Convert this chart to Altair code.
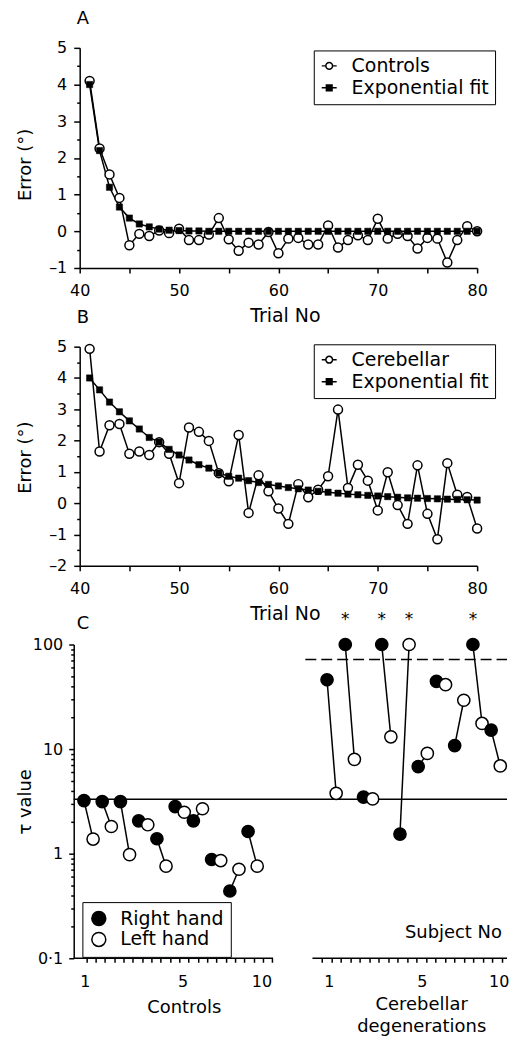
import altair as alt
import pandas as pd

FONT = "DejaVu Sans"

# ---------------- data ----------------
trials = list(range(41, 81))

controls = [4.10, 2.26, 1.55, 0.91, -0.38, -0.07, -0.13, 0.02, -0.05, 0.07,
            -0.24, -0.24, -0.09, 0.36, -0.22, -0.53, -0.31, -0.36, -0.02, -0.60,
            -0.20, -0.18, -0.36, -0.36, 0.16, -0.44, -0.24, -0.11, -0.24, 0.34,
            -0.20, -0.07, -0.13, -0.47, -0.18, -0.20, -0.85, -0.24, 0.14, 0.00]
fit_a = [4.00, 2.20, 1.20, 0.66, 0.36, 0.20, 0.12, 0.06, 0.03, 0.02,
         0.01, 0.01, 0.00, 0.00, 0.00, 0.00, 0.00, 0.00, 0.00, 0.00,
         0.00, 0.00, 0.00, 0.00, 0.00, 0.00, 0.00, 0.00, 0.00, 0.00,
         0.00, 0.00, 0.00, 0.00, 0.00, 0.00, 0.00, 0.00, 0.00, 0.00]

cerebellar = [4.93, 1.65, 2.49, 2.53, 1.58, 1.65, 1.54, 1.95, 1.58, 0.64,
              2.42, 2.28, 1.99, 0.96, 0.70, 2.18, -0.31, 0.89, 0.38, -0.17,
              -0.66, 0.61, 0.19, 0.43, 0.86, 2.99, 0.49, 1.23, 0.72, -0.23,
              0.99, -0.06, -0.66, 1.21, -0.34, -1.15, 1.28, 0.27, 0.20, -0.81]
fit_b = [4.00, 3.62, 3.23, 2.92, 2.63, 2.37, 2.10, 1.95, 1.72, 1.54,
         1.38, 1.23, 1.12, 0.96, 0.86, 0.80, 0.72, 0.66, 0.60, 0.55,
         0.50, 0.46, 0.42, 0.38, 0.35, 0.32, 0.29, 0.27, 0.25, 0.23,
         0.21, 0.19, 0.17, 0.16, 0.15, 0.14, 0.13, 0.12, 0.11, 0.10]

subjects = list(range(1, 11))
ctrl_right = [3.22, 3.15, 3.15, 2.06, 1.39, 2.82, 2.06, 0.88, 0.44, 1.63]
ctrl_left = [1.38, 1.82, 0.98, 1.89, 0.76, 2.49, 2.69, 0.86, 0.71, 0.76]
cer_right = [46.0, 100.0, 3.47, 100.0, 1.54, 6.8, 44.5, 10.8, 100.0, 15.2]
cer_left = [3.78, 7.98, 3.34, 13.1, 100.0, 9.1, 41.3, 29.3, 17.6, 6.9]
significant = [2, 4, 5, 9]
tau_normal_limit = 3.32
tau_upper_limit = 72.0

# axis tick / label tables for panel C (x units = subject positions)
c_label_pos = [1.04, 6.41, 10.73, 14.43, 19.53, 23.74]
c_label_txt = ["1", "5", "10", "1", "5", "10"]
c_ticks = [round(1.13 + 0.51 * k, 3) for k in range(21)] + \
          [round(14.06 + 0.518 * k, 3) for k in range(20)]
c_axis_segments = [(0.437, 11.37), (13.53, 24.2)]
C_DOMAIN = [0.765, 24.2]
HAND_OFFSET = 0.5
CER_SHIFT = 13.33

CIRCLE_PATH = "M-1,0L-0.45,0M0.45,0L1,0M0.45,0A0.45,0.45,0,1,1,-0.45,0A0.45,0.45,0,1,1,0.45,0Z"
SQUARE_PATH = "M-1,0L1,0M-0.38,-0.38L0.38,-0.38L0.38,0.38L-0.38,0.38Z"


def trial_panel(values, fit, label, letter, y_domain, title_y, legend_y):
    df_obs = pd.DataFrame({"trial": trials, "error": values, "series": label})
    df_fit = pd.DataFrame({"trial": trials, "error": fit, "series": "Exponential fit"})
    df_all = pd.concat([df_obs, df_fit], ignore_index=True)
    ymin, ymax = y_domain
    yvals = [ymin + 0.5 * i for i in range(int(round((ymax - ymin) * 2)) + 1)]

    x = alt.X("trial:Q",
              scale=alt.Scale(domain=[40, 80], nice=False, zero=False),
              axis=alt.Axis(values=list(range(40, 81, 5)),
                            labelExpr="datum.value % 10 == 0 ? datum.label : ''",
                            tickSize=5, labelPadding=10, labelFontSize=16,
                            labelOverlap=False, labelFlush=False,
                            title="Trial No", titleFontSize=19, titlePadding=8,
                            titleX=206))
    y = alt.Y("error:Q",
              scale=alt.Scale(domain=[ymin, ymax], nice=False, zero=False),
              axis=alt.Axis(values=yvals,
                            labelExpr="datum.value % 1 != 0 ? '' : (datum.value < 0 ? '\u2013' + (-datum.value) : '' + datum.value)",
                            tickSize={"condition": {"test": "datum.value % 1 == 0", "value": 6}, "value": 3},
                            labelPadding=7, labelFontSize=16, labelOverlap=False,
                            labelFlush=False,
                            title="Error (\u00b0)", titleFontSize=18,
                            titleX=-45, titleY=title_y))

    legend = alt.Legend(title=None, orient="none", legendX=235, legendY=legend_y,
                        strokeColor="black", fillColor="white", padding=6,
                        labelFontSize=19, labelFont=FONT, labelColor="black",
                        symbolSize=225, symbolStrokeWidth=1.5,
                        symbolStrokeColor="black", symbolOpacity=1,
                        labelOffset=13, rowPadding=2, labelLimit=400)
    dom = [label, "Exponential fit"]

    obs_line = alt.Chart(df_obs).mark_line(color="black", strokeWidth=1.5).encode(x=x, y=y)
    fit_line = alt.Chart(df_fit).mark_line(color="black", strokeWidth=1.5).encode(x=x, y=y)
    obs_pts = alt.Chart(df_obs).mark_point(shape="circle", size=81, filled=True, fill="white",
                                           stroke="black", strokeWidth=1.5, opacity=1).encode(x=x, y=y)
    fit_pts = alt.Chart(df_fit).mark_point(shape="square", size=40, filled=True, fill="black",
                                           stroke="black", strokeWidth=0.5, opacity=1).encode(x=x, y=y)
    key = alt.Chart(df_all).mark_point(size=0, filled=True, strokeWidth=1.5, opacity=1).encode(
        x=x, y=y,
        shape=alt.Shape("series:N", scale=alt.Scale(domain=dom, range=[CIRCLE_PATH, SQUARE_PATH]), legend=legend),
        fill=alt.Fill("series:N", scale=alt.Scale(domain=dom, range=["white", "black"]), legend=legend),
        stroke=alt.Stroke("series:N", scale=alt.Scale(domain=dom, range=["black", "black"]), legend=legend),
    )
    return alt.layer(obs_line, fit_line, obs_pts, fit_pts, key).properties(
        width=399, height=221 if ymin == -1 else 220,
        title=alt.TitleParams(letter, anchor="start", frame="group", fontSize=18,
                              fontWeight="normal", offset=12, dx=-3),
    )


panel_a = trial_panel(controls, fit_a, "Controls", "A", (-1, 5), 117, 2.6)
panel_b = trial_panel(cerebellar, fit_b, "Cerebellar", "B", (-2, 5), 111, -2.4)

# ---------------- panel C ----------------
pair_rows, pt_rows = [], []
for grp, right, left, shift in [("Controls", ctrl_right, ctrl_left, 0.0),
                                ("Cerebellar", cer_right, cer_left, CER_SHIFT)]:
    for s, r, l in zip(subjects, right, left):
        xr = s + shift
        xl = s + shift + HAND_OFFSET
        pair_rows.append({"group": grp, "subject": s, "x": xr, "x2": xl, "tau": r, "tau2": l})
        pt_rows.append({"group": grp, "subject": s, "x": xr, "tau": r, "hand": "Right hand"})
        pt_rows.append({"group": grp, "subject": s, "x": xl, "tau": l, "hand": "Left hand"})
df_pairs = pd.DataFrame(pair_rows)
df_pts = pd.DataFrame(pt_rows)

star_rows = []
for s in significant:
    r = cer_right[s - 1]
    l = cer_left[s - 1]
    if r >= l:
        star_rows.append({"x": s + CER_SHIFT, "tau": r, "t": "*"})
    else:
        star_rows.append({"x": s + CER_SHIFT + HAND_OFFSET, "tau": l, "t": "*"})
df_star = pd.DataFrame(star_rows)

df_lines = pd.DataFrame([{"x": c_axis_segments[0][0], "x2": C_DOMAIN[1], "tau": tau_normal_limit}])
df_dash = pd.DataFrame([{"x": 13.14, "x2": C_DOMAIN[1], "tau": tau_upper_limit}])
df_axis = pd.DataFrame([{"x": a, "x2": b, "tau": 0.1} for a, b in c_axis_segments])
df_text = pd.DataFrame([
    {"t": "Subject No", "x": 21.26, "tau": 0.1757},
    {"t": "Controls", "x": 6.50, "tau": 0.0336},
    {"t": "Cerebellar", "x": 19.52, "tau": 0.0358},
    {"t": "degenerations", "x": 19.52, "tau": 0.0222},
])
df_letter = pd.DataFrame([{"t": "C", "x": C_DOMAIN[0], "tau": 100.0}])

c_y_vals = []
for e in [-1, 0, 1]:
    for k in range(1, 10):
        c_y_vals.append(round(k * 10 ** e, 6))
c_y_vals.append(100.0)

label_expr = " : ".join(f"datum.value == {p} ? '{t}'" for p, t in zip(c_label_pos, c_label_txt)) + " : ''"
label_list = ",".join(str(p) for p in c_label_pos)

xC_scale = alt.Scale(domain=C_DOMAIN, nice=False, zero=False)
yC_scale = alt.Scale(type="log", domain=[0.1, 100], nice=False)

xC = alt.X("x:Q", scale=xC_scale,
           axis=alt.Axis(values=c_ticks + c_label_pos, labelExpr=label_expr,
                         tickOpacity={"condition": {"test": f"indexof([{label_list}], datum.value) >= 0", "value": 0}, "value": 1},
                         tickSize=4, labelPadding=11, labelFontSize=16, domain=False,
                         labelOverlap=False, labelFlush=False, title=None))
yC = alt.Y("tau:Q", scale=yC_scale,
           axis=alt.Axis(values=c_y_vals, offset=6,
                         labelExpr="datum.value == 0.1 ? '0\u00b71' : datum.value == 1 ? '1' : datum.value == 10 ? '10' : datum.value == 100 ? '100' : ''",
                         tickSize={"condition": {"test": "datum.value == 0.1 || datum.value == 1 || datum.value == 10 || datum.value == 100", "value": 5}, "value": 3},
                         labelPadding=6, labelFontSize=16, labelOverlap=False, labelFlush=False,
                         title="\u03c4 value", titleFontSize=18, titleX=-39))

solid = alt.Chart(df_lines).mark_rule(color="black", strokeWidth=1.5).encode(x=xC, x2="x2:Q", y=yC)
dashed = alt.Chart(df_dash).mark_rule(color="black", strokeWidth=1.5, strokeDash=[11, 5]).encode(x=xC, x2="x2:Q", y=yC)
axis_lines = alt.Chart(df_axis).mark_rule(color="black", strokeWidth=1.5).encode(x=xC, x2="x2:Q", y=yC)
pairs = alt.Chart(df_pairs).mark_rule(color="black", strokeWidth=1.5).encode(
    x=xC, x2="x2:Q", y=yC, y2="tau2:Q")
c_legend = alt.Legend(title=None, orient="none", legendX=2.7, legendY=258.6,
                      strokeColor="black", fillColor="white", padding=7,
                      labelFontSize=19, labelFont=FONT, labelColor="black",
                      symbolSize=196, symbolStrokeWidth=1.5, symbolStrokeColor="black",
                      symbolOpacity=1, symbolType="circle", labelOffset=12, rowPadding=0,
                      labelLimit=400)
pts = alt.Chart(df_pts).mark_point(shape="circle", size=150, filled=True, stroke="black",
                                   strokeWidth=1.5, opacity=1).encode(
    x=xC, y=yC,
    fill=alt.Fill("hand:N", scale=alt.Scale(domain=["Right hand", "Left hand"], range=["black", "white"]),
                  legend=c_legend))
stars = alt.Chart(df_star).mark_text(font=FONT, fontSize=17, color="black", baseline="alphabetic",
                                     align="center", dy=-20).encode(x=xC, y=yC, text="t:N")
texts = alt.Chart(df_text).mark_text(font=FONT, fontSize=18, color="black", baseline="middle",
                                     align="center").encode(x=xC, y=yC, text="t:N")
letter = alt.Chart(df_letter).mark_text(font=FONT, fontSize=18, color="black", baseline="alphabetic",
                                        align="left", dx=-3, dy=-16).encode(x=xC, y=yC, text="t:N")

panel_c = alt.layer(solid, dashed, axis_lines, pairs, pts, stars, texts, letter).properties(
    width=429, height=315,
)

chart = alt.vconcat(panel_a, panel_b, panel_c, spacing=79, bounds="flush").resolve_scale(
    shape="independent", fill="independent", stroke="independent"
).properties(
    padding={"left": 17, "top": 8, "right": 0, "bottom": 0}
).configure(font=FONT).configure_view(strokeWidth=0).configure_axis(
    domainColor="black", tickColor="black", domainWidth=1.5, tickWidth=1.5,
    labelColor="black", titleColor="black", labelFont=FONT, titleFont=FONT,
    grid=False, titleFontWeight="normal"
).configure_title(font=FONT, color="black")

chart.save("out.html", embed_options={"renderer": "svg", "actions": False})
